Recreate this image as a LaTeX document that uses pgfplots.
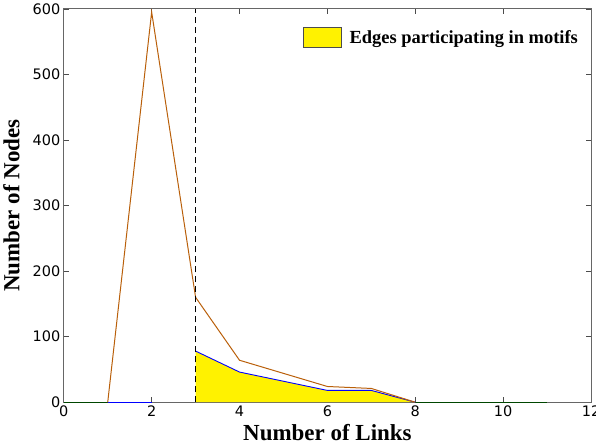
\documentclass[border=0pt]{standalone}
\usepackage{pgfplots}
\pgfplotsset{compat=1.18}
\usetikzlibrary{calc}
\usepackage{fontspec}
\setmainfont{Liberation Serif}
\newfontfamily\dejavu{DejaVu Sans}
\definecolor{brownline}{RGB}{185,95,10}
\definecolor{greenline}{RGB}{0,70,0}
\begin{document}
\begin{tikzpicture}
\begin{axis}[
  set layers,
  clip=false,
  scale only axis,
  width=528pt, height=394pt,
  xmin=0, xmax=12, ymin=0, ymax=600,
  xtick={0,2,4,6,8,10,12},
  ytick={0,100,200,300,400,500,600},
  tick align=inside,
  major tick length=5pt,
  tick style={black!70, line width=0.6pt},
  axis line style={black!60, line width=0.9pt},
  /pgf/number format/assume math mode=true,
  tick label style={font=\dejavu\fontsize{14.5}{15}\selectfont},
  xlabel={\textbf{Number of Links}},
  ylabel={\textbf{Number of Nodes}},
  label style={font=\fontsize{23}{24}\selectfont},
  xlabel style={yshift=-1pt},
  ylabel style={yshift=6pt},
  legend style={draw=none, fill=none, font=\bfseries\fontsize{18.5}{20}\selectfont,
    at={(rel axis cs:0.985,0.96)}, anchor=north east},
  legend cell align=left,
]
\addplot[fill=yellow, draw=none, area legend,
  legend image code/.code={\draw[fill=yellow,draw=black!70,line width=0.8pt] (0pt,-9pt) rectangle (38pt,11pt);}]
  coordinates {(3,0)(3,78)(4,46)(5,32)(6,18)(7,18)(8,0)} \closedcycle;
\addlegendentry{\hspace{6pt}Edges participating in motifs}
\addplot[greenline, line width=1pt, forget plot] coordinates {(0,0)(1,0)};
\addplot[greenline, line width=1pt, forget plot] coordinates {(8,0)(9,0)(10,0)(11,0)};
\addplot[blue, line width=0.9pt, forget plot] coordinates {(1,0)(2,0)};
\addplot[blue, line width=0.9pt, forget plot] coordinates {(3,78)(4,46)(5,32)(6,18)(7,18)(8,0)};
\addplot[brownline, line width=1pt, forget plot] coordinates {(1,0)(2,595)(3,160)(4,64)(5,44)(6,24)(7,21)(8,0)};
\addplot[black, line width=1.4pt, dash pattern=on 6pt off 4pt, forget plot] coordinates {(3,0)(3,600)};
\end{axis}
\pgfresetboundingbox
\path[use as bounding box] (current axis.outer south west) rectangle ($(current axis.north east |- current axis.outer north east)+(5pt,0)$);
\end{tikzpicture}
\end{document}
